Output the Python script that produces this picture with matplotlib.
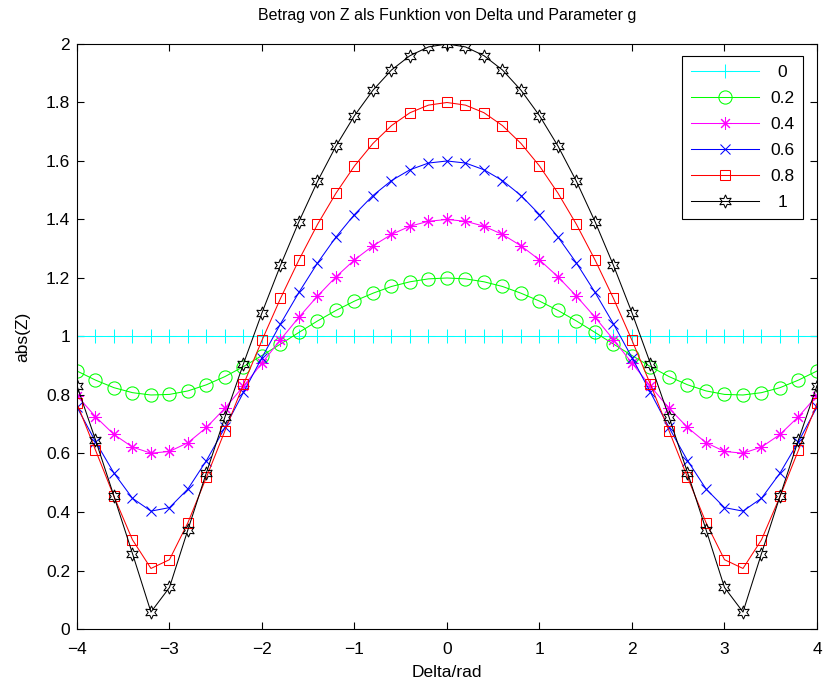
import numpy as np
import matplotlib
matplotlib.use('Agg')
import matplotlib.pyplot as plt
from matplotlib.ticker import FuncFormatter

plt.rcParams['font.family'] = ['Liberation Sans', 'DejaVu Sans']

# Delta/rad
delta = [-4.0, -3.8, -3.6, -3.4, -3.2, -3.0, -2.8, -2.6, -2.4, -2.2, -2.0,
         -1.8, -1.6, -1.4, -1.2, -1.0, -0.8, -0.6, -0.4, -0.2, 0.0,
         0.2, 0.4, 0.6, 0.8, 1.0, 1.2, 1.4, 1.6, 1.8, 2.0,
         2.2, 2.4, 2.6, 2.8, 3.0, 3.2, 3.4, 3.6, 3.8, 4.0]

g_labels = ['0', '0.2', '0.4', '0.6', '0.8', '1']

z_g00 = [1.0] * 41
z_g02 = [0.882, 0.851, 0.825, 0.808, 0.800, 0.802, 0.814, 0.835, 0.863, 0.897,
         0.935, 0.974, 1.014, 1.053, 1.089, 1.121, 1.148, 1.171, 1.187, 1.197,
         1.200,
         1.197, 1.187, 1.171, 1.148, 1.121, 1.089, 1.053, 1.014, 0.974, 0.935,
         0.897, 0.863, 0.835, 0.814, 0.802, 0.800, 0.808, 0.825, 0.851, 0.882]
z_g04 = [0.798, 0.726, 0.665, 0.622, 0.601, 0.607, 0.637, 0.689, 0.755, 0.830,
         0.909, 0.989, 1.066, 1.138, 1.204, 1.262, 1.310, 1.349, 1.377, 1.394,
         1.400,
         1.394, 1.377, 1.349, 1.310, 1.262, 1.204, 1.138, 1.066, 0.989, 0.909,
         0.830, 0.755, 0.689, 0.637, 0.607, 0.601, 0.622, 0.665, 0.726, 0.798]
z_g06 = [0.759, 0.641, 0.533, 0.447, 0.403, 0.415, 0.479, 0.576, 0.689, 0.809,
         0.928, 1.043, 1.151, 1.251, 1.340, 1.417, 1.482, 1.533, 1.570, 1.593,
         1.600,
         1.593, 1.570, 1.533, 1.482, 1.417, 1.340, 1.251, 1.151, 1.043, 0.928,
         0.809, 0.689, 0.576, 0.479, 0.415, 0.403, 0.447, 0.533, 0.641, 0.759]
z_g08 = [0.771, 0.612, 0.453, 0.305, 0.207, 0.237, 0.364, 0.519, 0.678, 0.836,
         0.987, 1.130, 1.262, 1.383, 1.490, 1.583, 1.660, 1.721, 1.765, 1.791,
         1.800,
         1.791, 1.765, 1.721, 1.660, 1.583, 1.490, 1.383, 1.262, 1.130, 0.987,
         0.836, 0.678, 0.519, 0.364, 0.237, 0.207, 0.305, 0.453, 0.612, 0.771]
z_g10 = [0.832, 0.647, 0.454, 0.258, 0.058, 0.142, 0.340, 0.535, 0.725, 0.907,
         1.081, 1.243, 1.393, 1.530, 1.651, 1.755, 1.842, 1.911, 1.960, 1.990,
         2.000,
         1.990, 1.960, 1.911, 1.842, 1.755, 1.651, 1.530, 1.393, 1.243, 1.081,
         0.907, 0.725, 0.535, 0.340, 0.142, 0.058, 0.258, 0.454, 0.647, 0.832]

serien = [z_g00, z_g02, z_g04, z_g06, z_g08, z_g10]

# Stil wie in MATLAB
farben = ['#00ffff', '#00ff00', '#ff00ff', '#0000ff', '#ff0000', '#000000']
marker = ['+', 'o', (8, 2, 0), 'x', 's', (6, 1, 0)]
msize = [10, 9.5, 9, 7.5, 7.5, 9.5]

fig = plt.figure(figsize=(8.24, 6.84), dpi=100)
ax = fig.add_axes([0.0934, 0.0804, 0.8981, 0.8553])

for z, c, m, ms, lab in zip(serien, farben, marker, msize, g_labels):
    ax.plot(delta, z, color=c, lw=0.75, marker=m, ms=ms, mfc='none',
            mec=c, mew=0.75, label=lab)

ax.set_xlim(-4, 4)
ax.set_ylim(0, 2)
ax.set_xticks(np.arange(-4, 5, 1))
ax.set_yticks(np.arange(0, 2.01, 0.2))
ax.yaxis.set_major_formatter(FuncFormatter(lambda v, p: '{:g}'.format(round(v, 1))))
ax.tick_params(direction='in', top=True, right=True, length=5, width=0.8,
               labelsize=12.5)
ax.tick_params(axis='x', pad=9)
ax.tick_params(axis='y', pad=5)
for s in ax.spines.values():
    s.set_linewidth(0.8)

ax.set_xlabel('Delta/rad', fontsize=12.5, labelpad=6)
ax.set_ylabel('abs(Z)', fontsize=12.5, labelpad=11)
ax.set_title('Betrag von Z als Funktion von Delta und Parameter g',
             fontsize=11.5, pad=17)

leg = ax.legend(loc='upper right', bbox_to_anchor=(0.981, 0.9795),
                borderaxespad=0, fontsize=12.5, handlelength=3.95,
                handletextpad=0.63, labelspacing=0.63, borderpad=0.5,
                fancybox=False, framealpha=1, edgecolor='black')
leg.get_frame().set_linewidth(0.8)

# Legendentexte zentrieren
fig.canvas.draw()
texte = leg.get_texts()
breiten = [t.get_window_extent().width for t in texte]
bmax = max(breiten)
for t, b in zip(texte, breiten):
    t.set_position(((bmax - b) / 2, 0))

fig.savefig('out.png', dpi=100)
